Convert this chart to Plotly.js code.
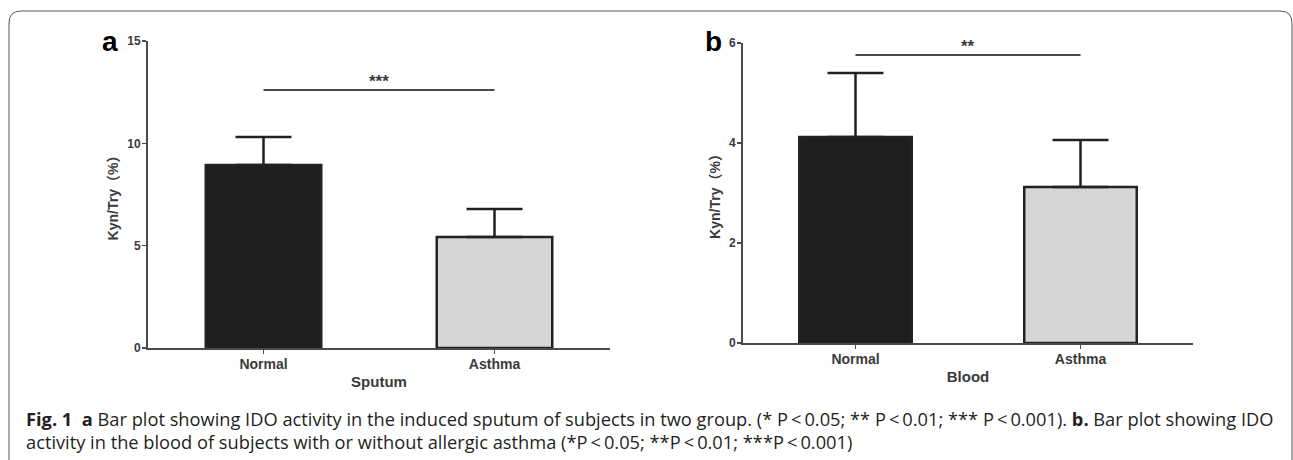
<!DOCTYPE html>
<html>
<head>
<meta charset="utf-8">
<script src="https://cdn.plot.ly/plotly-3.0.1.min.js"></script>
<style>
  html, body { margin: 0; padding: 0; background: #fff; }
  #chart { width: 1293px; height: 460px; }
</style>
</head>
<body>
<div id="chart"></div>
<script>
// ---- data ----
const categories = ['Normal', 'Asthma'];
const sputumMean = [8.94, 5.42];
const sputumSD = [1.37, 1.37];
const bloodMean = [4.12, 3.12];
const bloodSD = [1.28, 0.94];
const sputumSigLevel = 12.6;
const bloodSigLevel = 5.76;
const sputumSigText = '***';
const bloodSigText = '**';
const sputumTicks = [0, 5, 10, 15];
const bloodTicks = [0, 2, 4, 6];
const zeroMinus = [0, 0];
const barColors = ['#1e1e1e', '#d6d6d6'];
const captionLine1 = '<b>Fig. 1</b>\u00A0\u00A0<b>a</b> Bar plot showing IDO activity in the induced sputum of subjects in two group. (* P\u2009&lt;\u20090.05; ** P\u2009&lt;\u20090.01; *** P\u2009&lt;\u20090.001). <b>b.</b> Bar plot showing IDO';
const captionLine2 = 'activity in the blood of subjects with or without allergic asthma (*P\u2009&lt;\u20090.05; **P\u2009&lt;\u20090.01; ***P\u2009&lt;\u20090.001)';

const W = 1293, H = 460;
const px = x => x / W;
const py = y => (H - y) / H;

const FAM = 'Liberation Sans, Arial, sans-serif';
const txtCol = '#3a3a3a';
const lineCol = '#4a4a4a';

function barTrace(mean, sd, xa, ya) {
  return {
    type: 'bar', x: categories, y: mean, xaxis: xa, yaxis: ya,
    width: 0.5,
    marker: { color: barColors, line: { color: '#222', width: 2.5 } },
    error_y: { type: 'data', symmetric: false, array: sd, arrayminus: zeroMinus,
               color: '#222', thickness: 2.5, width: 28 },
    hoverinfo: 'skip', showlegend: false
  };
}
function sigTrace(level, xa, ya) {
  return {
    type: 'scatter', mode: 'lines', x: categories, y: [level, level],
    xaxis: xa, yaxis: ya, line: { color: lineCol, width: 2 },
    hoverinfo: 'skip', showlegend: false
  };
}

const data = [
  barTrace(sputumMean, sputumSD, 'x', 'y'),
  sigTrace(sputumSigLevel, 'x', 'y'),
  barTrace(bloodMean, bloodSD, 'x2', 'y2'),
  sigTrace(bloodSigLevel, 'x2', 'y2')
];

function xAxis(domain, title, anchor) {
  return {
    domain: domain, anchor: anchor, type: 'category', range: [-0.5, 1.5],
    showline: true, linecolor: lineCol, linewidth: 2, mirror: false,
    showgrid: false, zeroline: false,
    ticks: 'outside', ticklen: 4, tickwidth: 1.5, tickcolor: lineCol,
    ticklabelstandoff: -2,
    tickfont: { family: FAM, size: 14, color: txtCol, weight: 'bold' },
    title: { text: title, font: { family: FAM, size: 15, color: txtCol, weight: 'bold' }, standoff: 6 },
    fixedrange: true
  };
}
function yAxis(domain, ticks, range, anchor) {
  return {
    domain: domain, anchor: anchor, range: range,
    tickvals: ticks, ticktext: ticks.map(String),
    showline: true, linecolor: lineCol, linewidth: 2,
    showgrid: false, zeroline: false,
    ticks: 'outside', ticklen: 4, tickwidth: 1.5, tickcolor: lineCol,
    ticklabelstandoff: -1,
    tickfont: { family: FAM, size: 12, color: txtCol, weight: 'bold' },
    title: { text: 'Kyn/Try\uFF08%\uFF09', font: { family: FAM + ', "Noto Sans CJK SC"', size: 14, color: txtCol, weight: 'bold' }, standoff: 5 },
    fixedrange: true
  };
}

const layout = {
  width: W, height: H,
  margin: { l: 0, r: 0, t: 0, b: 0 },
  paper_bgcolor: '#fff', plot_bgcolor: 'rgba(0,0,0,0)',
  bargap: 0,
  xaxis: xAxis([px(148), px(610)], 'Sputum', 'y'),
  yaxis: yAxis([py(348), py(41)], sputumTicks, [0, 15], 'x'),
  xaxis2: xAxis([px(743), px(1193)], 'Blood', 'y2'),
  yaxis2: yAxis([py(343), py(43)], bloodTicks, [0, 6], 'x2'),
  shapes: [
    {
      type: 'path', xref: 'paper', yref: 'paper',
      path: 'M ' + px(9) + ',' + py(470) + ' L ' + px(9) + ',' + py(23) +
            ' Q ' + px(9) + ',' + py(11) + ' ' + px(21) + ',' + py(11) +
            ' L ' + px(1280) + ',' + py(11) +
            ' Q ' + px(1292) + ',' + py(11) + ' ' + px(1292) + ',' + py(23) +
            ' L ' + px(1292) + ',' + py(470),
      line: { color: '#555', width: 1 }
    }
  ],
  annotations: [
    { xref: 'x', yref: 'y', x: 0.5, y: sputumSigLevel, text: sputumSigText, showarrow: false,
      yanchor: 'bottom', yshift: -3, font: { family: FAM, size: 17, color: txtCol, weight: 'bold' } },
    { xref: 'x2', yref: 'y2', x: 0.5, y: bloodSigLevel, text: bloodSigText, showarrow: false,
      yanchor: 'bottom', yshift: -3, font: { family: FAM, size: 17, color: txtCol, weight: 'bold' } },
    { xref: 'paper', yref: 'paper', x: px(110), y: py(41), text: '<b>a</b>', showarrow: false,
      xanchor: 'center', yanchor: 'middle', font: { family: FAM, size: 28, color: '#000' } },
    { xref: 'paper', yref: 'paper', x: px(714), y: py(41), text: '<b>b</b>', showarrow: false,
      xanchor: 'center', yanchor: 'middle', font: { family: FAM, size: 28, color: '#000' } },
    { xref: 'paper', yref: 'paper', x: px(24), y: py(418), text: captionLine1, showarrow: false,
      xanchor: 'left', yanchor: 'middle', font: { family: 'Open Sans, sans-serif', size: 18.25, color: '#231f20' } },
    { xref: 'paper', yref: 'paper', x: px(24), y: py(441), text: captionLine2, showarrow: false,
      xanchor: 'left', yanchor: 'middle', font: { family: 'Open Sans, sans-serif', size: 18.25, color: '#231f20' } }
  ]
};

Plotly.newPlot('chart', data, layout, { displayModeBar: false, staticPlot: true });
</script>
</body>
</html>
